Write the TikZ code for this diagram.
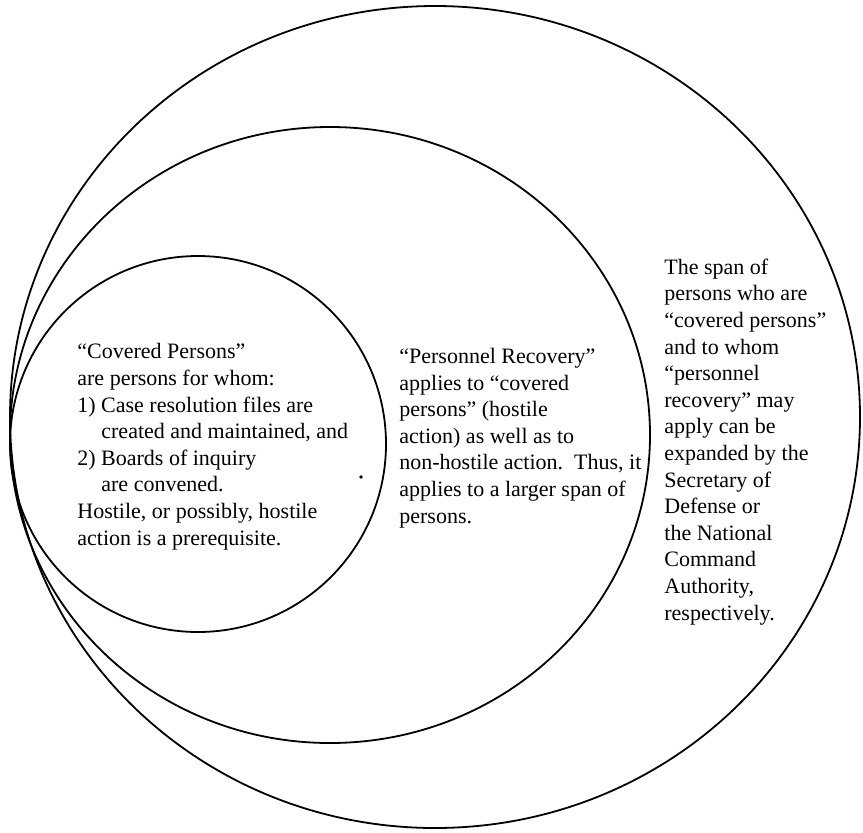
\documentclass[tikz,border=0pt]{standalone}
\usepackage{fontspec}
\setmainfont{Liberation Serif}
\tikzset{
  ring/.style={line width=0.9pt},
  textblock/.style={align=left, anchor=base west, inner sep=0pt,
    font=\fontsize{11}{13.3}\selectfont}
}
\begin{document}
\begin{tikzpicture}[x=0.5pt,y=-0.5pt]

        \useasboundingbox (0,0) rectangle (863,832);

        \draw[ring] (435,417) ellipse [x radius=425, y radius=411];
        \draw[ring] (330,435) ellipse [x radius=320, y radius=308];
        \draw[ring] (198,444) circle [radius=188];

        \draw[fill] (361,477) circle [radius=1.2];

        \node[textblock] (covered) at (77,545) {``Covered Persons''\\
            are persons for whom:\\
            1) Case resolution files are\\
            \hspace*{12pt}created and maintained, and\\
            2) Boards of inquiry\\
            \hspace*{12pt}are convened.\\
            Hostile, or possibly, hostile\\
            action is a prerequisite.};

        \node[textblock] (recovery) at (399,523) {``Personnel Recovery''\\
            applies to ``covered\\
            persons'' (hostile\\
            action) as well as to\\
            non-hostile action.\ \ Thus, it\\
            applies to a larger span of\\
            persons.};

        \node[textblock] (span) at (664,620) {The span of\\
            persons who are\\
            ``covered persons''\\
            and to whom\\
            ``personnel\\
            recovery'' may\\
            apply can be\\
            expanded by the\\
            Secretary of\\
            Defense or\\
            the National\\
            Command\\
            Authority,\\
            respectively.};
    \end{tikzpicture}
\end{document}
